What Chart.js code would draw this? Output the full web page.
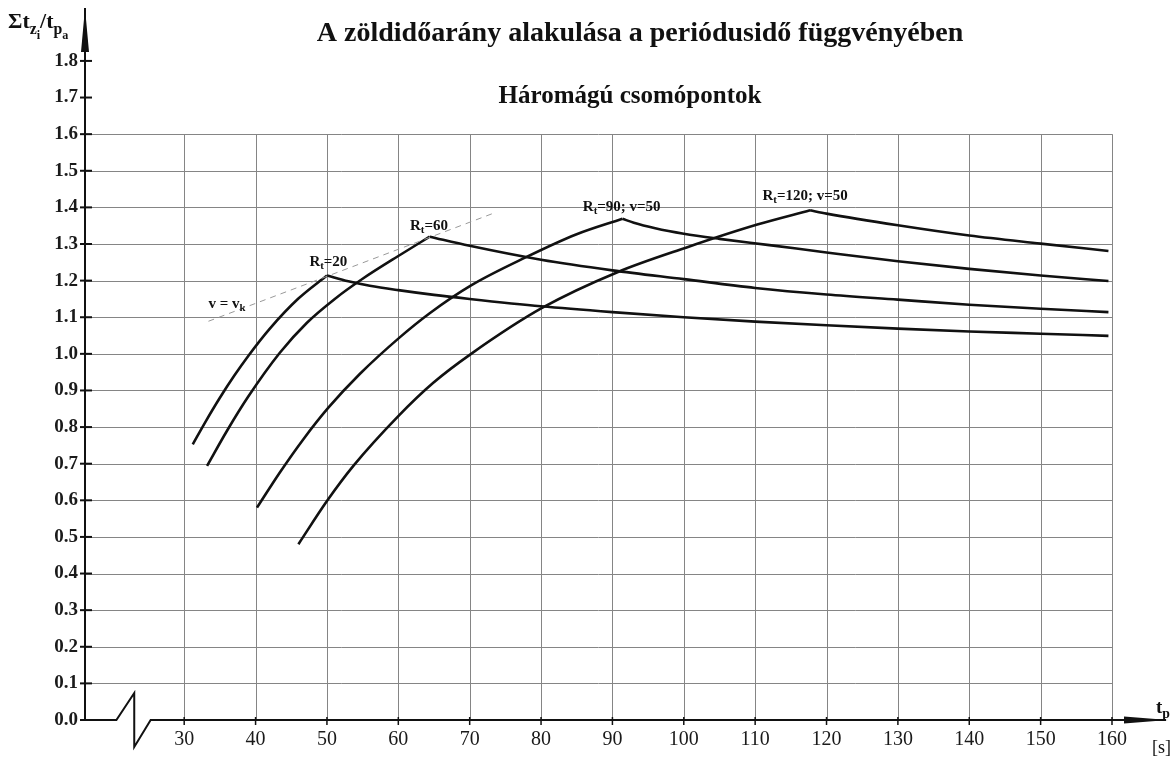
<!DOCTYPE html>
<html>
<head>
<meta charset="utf-8">
<script src="https://cdn.jsdelivr.net/npm/chart.js@4.4.1/dist/chart.umd.min.js"></script>
<style>
  html, body { margin: 0; padding: 0; background: #fff; }
</style>
</head>
<body>
<canvas id="chart" width="1176" height="760"></canvas>
<script>
// tick values
const xTicks = [30, 40, 50, 60, 70, 80, 90, 100, 110, 120, 130, 140, 150, 160];
const yTicks = [0.0, 0.1, 0.2, 0.3, 0.4, 0.5, 0.6, 0.7, 0.8, 0.9, 1.0, 1.1, 1.2, 1.3, 1.4, 1.5, 1.6, 1.7, 1.8];
const gridTop = 1.6;

// R_t = 20
const rt20RiseX = [31.2, 33, 35, 37, 39, 42, 46, 50];
const rt20RiseY = [0.753, 0.815, 0.880, 0.940, 0.995, 1.069, 1.151, 1.214];
const rt20FallX = [50, 53, 56, 60, 65, 70, 80, 90, 100, 110, 120, 130, 140, 150, 159.5];
const rt20FallY = [1.214, 1.198, 1.186, 1.174, 1.161, 1.150, 1.130, 1.114, 1.100, 1.088, 1.078, 1.069, 1.061, 1.055, 1.049];

// R_t = 60
const rt60RiseX = [33.2, 36, 39, 43.4, 47.2, 51.1, 55, 60.4, 64.4];
const rt60RiseY = [0.694, 0.790, 0.884, 1.003, 1.085, 1.150, 1.205, 1.272, 1.320];
const rt60FallX = [64.4, 70, 80, 90, 100, 110, 120, 130, 140, 150, 159.5];
const rt60FallY = [1.320, 1.295, 1.257, 1.228, 1.204, 1.180, 1.162, 1.148, 1.134, 1.123, 1.114];

// R_t = 90; v = 50
const rt90RiseX = [40.2, 43.4, 46.7, 50.2, 54.6, 60.2, 64.4, 70.2, 77.9, 84.9, 91.4];
const rt90RiseY = [0.580, 0.676, 0.767, 0.853, 0.945, 1.045, 1.111, 1.187, 1.264, 1.326, 1.369];
const rt90FallX = [91.4, 93, 96, 100, 105, 112, 120, 130, 140, 150, 159.5];
const rt90FallY = [1.369, 1.358, 1.343, 1.328, 1.314, 1.297, 1.277, 1.253, 1.232, 1.214, 1.199];

// R_t = 120; v = 50
const rt120RiseX = [46.0, 50, 53.7, 60, 64.9, 70.2, 80.2, 90.7, 100.3, 110.3, 117.7];
const rt120RiseY = [0.480, 0.598, 0.694, 0.830, 0.921, 1.000, 1.126, 1.223, 1.290, 1.353, 1.392];
const rt120FallX = [117.7, 120, 130, 140, 150, 159.5];
const rt120FallY = [1.392, 1.383, 1.351, 1.323, 1.301, 1.281];

// v = v_k line
const vkX = [33.4, 73.6];
const vkY = [1.089, 1.386];

// curve labels: position in data units, text parts (n = normal, s = subscript)
const curveLabels = [
  { x: 50.2, y: 1.250, parts: [['R', 'n'], ['t', 's'], ['=20', 'n']] },
  { x: 64.3, y: 1.348, parts: [['R', 'n'], ['t', 's'], ['=60', 'n']] },
  { x: 91.3, y: 1.402, parts: [['R', 'n'], ['t', 's'], ['=90; v=50', 'n']] },
  { x: 117.0, y: 1.430, parts: [['R', 'n'], ['t', 's'], ['=120; v=50', 'n']] },
  { x: 36.0, y: 1.135, parts: [['v = v', 'n'], ['k', 's']] }
];

const titleText = 'A zöldidőarány alakulása a periódusidő függvényében';
const subtitleText = 'Háromágú csomópontok';

const SERIF = '"Liberation Serif", "DejaVu Serif", serif';

function pts(xs, ys) {
  return xs.map((x, i) => ({ x: x, y: ys[i] }));
}

function curve(xs, ys) {
  return {
    data: pts(xs, ys),
    borderColor: '#111',
    borderWidth: 2.6,
    pointRadius: 0,
    fill: false,
    cubicInterpolationMode: 'monotone'
  };
}

// draws text made of normal / sub / subsub parts, starting at x
function drawParts(ctx, parts, x, y, size, weight, align) {
  const sizes = { n: size, s: size * 0.72, ss: size * 0.55 };
  const shift = { n: 0, s: size * 0.28, ss: size * 0.5 };
  let total = 0;
  parts.forEach(p => {
    ctx.font = weight + ' ' + sizes[p[1]] + 'px ' + SERIF;
    total += ctx.measureText(p[0]).width;
  });
  let cx = align === 'center' ? x - total / 2 : x;
  parts.forEach(p => {
    ctx.font = weight + ' ' + sizes[p[1]] + 'px ' + SERIF;
    ctx.fillText(p[0], cx, y + shift[p[1]]);
    cx += ctx.measureText(p[0]).width;
  });
}

function line(ctx, x1, y1, x2, y2) {
  ctx.beginPath();
  ctx.moveTo(x1, y1);
  ctx.lineTo(x2, y2);
  ctx.stroke();
}

const drawing = {
  id: 'drawing',
  beforeDatasetsDraw(chart) {
    const { ctx, scales: { x, y } } = chart;
    ctx.save();
    ctx.strokeStyle = '#858585';
    ctx.lineWidth = 1;
    const y0 = y.getPixelForValue(0);
    const yTop = y.getPixelForValue(gridTop);
    xTicks.forEach(v => {
      const px = Math.round(x.getPixelForValue(v)) + 0.5;
      line(ctx, px, y0, px, yTop);
    });
    const xEnd = x.getPixelForValue(xTicks[xTicks.length - 1]);
    yTicks.filter(v => v > 0 && v <= gridTop + 1e-9).forEach(v => {
      const py = Math.round(y.getPixelForValue(v)) + 0.5;
      line(ctx, x.left, py, xEnd, py);
    });
    ctx.restore();
  },
  afterDatasetsDraw(chart) {
    const { ctx, scales: { x, y } } = chart;
    const left = x.left;
    const y0 = Math.round(y.getPixelForValue(0));
    ctx.save();
    ctx.strokeStyle = '#111';
    ctx.fillStyle = '#111';
    ctx.lineWidth = 2;

    // y axis with arrow
    line(ctx, left, y0, left, chart.chartArea.top + 2);
    ctx.beginPath();
    ctx.moveTo(left, chart.chartArea.top + 2);
    ctx.lineTo(left - 4, chart.chartArea.top + 46);
    ctx.lineTo(left + 4, chart.chartArea.top + 46);
    ctx.closePath();
    ctx.fill();
    yTicks.forEach(v => {
      const py = y.getPixelForValue(v);
      line(ctx, left - 5, py, left + 7, py);
    });

    // x axis with break and arrow
    const b1 = x.getPixelForValue(20.5);
    const b2 = x.getPixelForValue(23.0);
    const b3 = x.getPixelForValue(25.3);
    ctx.beginPath();
    ctx.moveTo(left, y0);
    ctx.lineTo(b1, y0);
    ctx.lineTo(b2, y0 - 27);
    ctx.lineTo(b2, y0 + 27);
    ctx.lineTo(b3, y0);
    ctx.lineTo(chart.width - 10, y0);
    ctx.stroke();
    ctx.beginPath();
    ctx.moveTo(chart.width - 8, y0);
    ctx.lineTo(chart.width - 52, y0 - 3.5);
    ctx.lineTo(chart.width - 52, y0 + 3.5);
    ctx.closePath();
    ctx.fill();
    ctx.lineWidth = 1.5;
    xTicks.forEach(v => {
      const px = x.getPixelForValue(v);
      line(ctx, px, y0 - 3, px, y0 + 5);
    });

    // curve labels
    ctx.textBaseline = 'middle';
    curveLabels.forEach(l => {
      drawParts(ctx, l.parts, x.getPixelForValue(l.x), y.getPixelForValue(l.y), 15, 'bold', 'center');
    });

    // axis titles
    ctx.textBaseline = 'alphabetic';
    drawParts(ctx, [['\u03A3t', 'n'], ['z', 's'], ['i', 'ss'], ['/t', 'n'], ['p', 's'], ['a', 'ss']], 8, 28, 22, 'bold', 'left');
    drawParts(ctx, [['t', 'n'], ['p', 's']], 1156, 713, 19, 'bold', 'left');
    ctx.font = '18px ' + SERIF;
    ctx.fillText('[s]', 1152, 753);

    // titles
    ctx.textAlign = 'center';
    ctx.textBaseline = 'middle';
    ctx.font = 'bold 28px ' + SERIF;
    ctx.fillText(titleText, 640, 34);
    ctx.font = 'bold 25px ' + SERIF;
    ctx.fillText(subtitleText, 630, 97);
    ctx.restore();
  }
};

const vkDataset = {
  data: pts(vkX, vkY),
  borderColor: '#999',
  borderWidth: 1,
  borderDash: [6, 5],
  pointRadius: 0,
  fill: false
};

new Chart(document.getElementById('chart'), {
  type: 'line',
  data: {
    datasets: [
      vkDataset,
      curve(rt20RiseX, rt20RiseY), curve(rt20FallX, rt20FallY),
      curve(rt60RiseX, rt60RiseY), curve(rt60FallX, rt60FallY),
      curve(rt90RiseX, rt90RiseY), curve(rt90FallX, rt90FallY),
      curve(rt120RiseX, rt120RiseY), curve(rt120FallX, rt120FallY)
    ]
  },
  options: {
    responsive: false,
    animation: false,
    layout: { padding: { left: 10, right: 64, top: 6, bottom: 0 } },
    plugins: {
      legend: { display: false },
      tooltip: { enabled: false }
    },
    scales: {
      x: {
        type: 'linear',
        min: 16.1,
        max: 160,
        grid: { display: false, drawTicks: false },
        border: { display: false },
        afterBuildTicks: s => { s.ticks = xTicks.map(v => ({ value: v })); },
        afterFit: s => { s.height = 40; s.paddingLeft = 0; s.paddingRight = 0; },
        ticks: {
          padding: 8,
          color: '#1a1a1a',
          maxRotation: 0,
          autoSkip: false,
          font: { family: SERIF, size: 20 },
          callback: v => String(v)
        }
      },
      y: {
        type: 'linear',
        min: 0,
        max: 1.95,
        grid: { display: false, drawTicks: false },
        border: { display: false },
        afterBuildTicks: s => { s.ticks = yTicks.map(v => ({ value: v })); },
        afterFit: s => { s.width = 75; s.paddingTop = 0; s.paddingBottom = 0; },
        ticks: {
          padding: 7,
          color: '#1a1a1a',
          autoSkip: false,
          font: { family: SERIF, size: 19, weight: 'bold' },
          callback: v => Number(v).toFixed(1)
        }
      }
    }
  },
  plugins: [drawing]
});
</script>
</body>
</html>
